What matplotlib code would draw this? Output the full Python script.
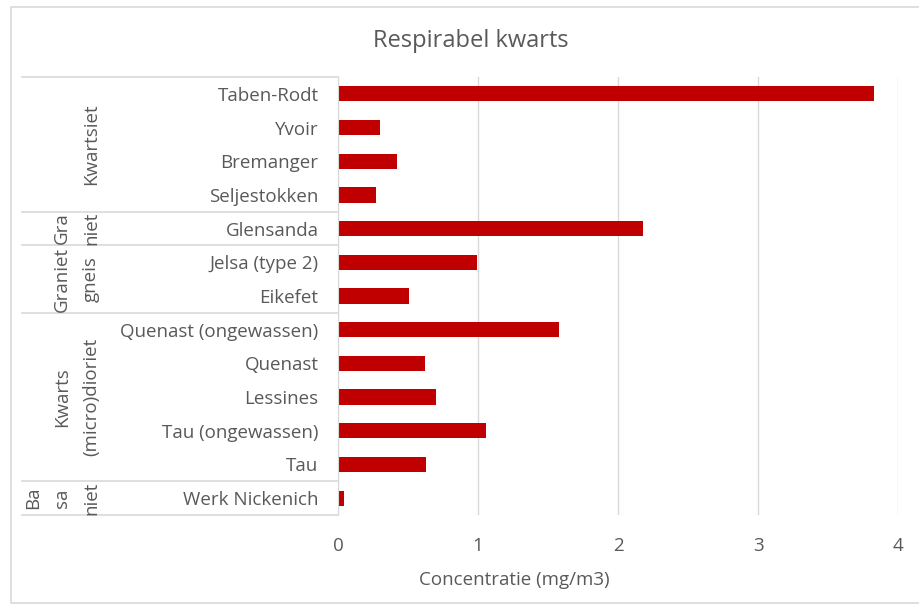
import matplotlib
matplotlib.use("Agg")
import matplotlib.pyplot as plt
import matplotlib.transforms as mtransforms
from matplotlib.lines import Line2D

# ---- data ----
categories = ["Taben-Rodt", "Yvoir", "Bremanger", "Seljestokken", "Glensanda",
              "Jelsa (type 2)", "Eikefet", "Quenast (ongewassen)", "Quenast",
              "Lessines", "Tau (ongewassen)", "Tau", "Werk Nickenich"]
values = [3.83, 0.30, 0.42, 0.27, 2.18, 0.99, 0.51, 1.58, 0.62, 0.70, 1.06, 0.63, 0.04]
groups = ["Kwartsiet", "Graniet", "Graniet gneis", "Kwarts (micro)dioriet", "Basaniet"]
group_sizes = [4, 1, 2, 5, 1]
group_lines = [["Kwartsiet"], ["Gra", "niet"], ["Graniet", "gneis"],
               ["Kwarts", "(micro)dioriet"], ["Ba", "sa", "niet"]]
xticks = [0, 1, 2, 3, 4]

TXT = "#595959"
GRID = "#d9d9d9"
BAR = "#c00000"
FONT = "Open Sans"
FS = 13.5

W, H = 919, 606
fig = plt.figure(figsize=(W / 100, H / 100), dpi=100)
plt.rcParams['font.family'] = [FONT, 'DejaVu Sans']

ax = fig.add_axes([338 / W, 1 - 515 / H, 560 / W, 438 / H])
y = list(range(len(categories)))
ax.barh(y, values, height=0.45, color=BAR, zorder=3)
ax.set_ylim(len(categories) - 0.5, -0.5)
ax.set_xlim(0, 4)
ax.set_xticks(xticks)
ax.set_xticklabels([str(t) for t in xticks], color=TXT, fontsize=FS)
ax.tick_params(axis='x', length=0, pad=16)
ax.set_yticks(y)
ax.set_yticklabels(categories, color=TXT, fontsize=FS)
ax.tick_params(axis='y', length=0, pad=14)
ax.grid(axis='x', color=GRID, linewidth=1, zorder=0)
for s in ["top", "right", "bottom"]:
    ax.spines[s].set_visible(False)
ax.spines["left"].set_color(GRID)
ax.spines["left"].set_zorder(4)

# title and axis label
fig.text(471 / W, 1 - 41 / H, "Respirabel kwarts", ha='center', va='center',
         color=TXT, fontsize=17)
fig.text(514 / W, 1 - 580 / H, "Concentratie (mg/m3)", ha='center', va='center',
         color=TXT, fontsize=FS)

# group table
trans = mtransforms.blended_transform_factory(fig.transFigure, ax.transData)
bounds = [-0.5]
for n in group_sizes:
    bounds.append(bounds[-1] + n)
for b in bounds:
    fig.add_artist(Line2D([22 / W, 338 / W], [b, b], transform=trans,
                          color=GRID, linewidth=1.2))
col_x = [33, 62, 91]
for i, lines in enumerate(group_lines):
    yc = (bounds[i] + bounds[i + 1]) / 2
    xs = col_x[len(col_x) - len(lines):]
    for txt, px in zip(lines, xs):
        fig.text(px / W, yc, txt, transform=trans, rotation=90, ha='center',
                 va='center', color=TXT, fontsize=FS)

# outer border (right side falls outside the image)
fx = lambda px: px / W
fy = lambda py: 1 - py / H
fig.add_artist(Line2D([fx(930), fx(11), fx(11), fx(930)],
                      [fy(7), fy(7), fy(603), fy(603)],
                      transform=fig.transFigure, color=GRID, linewidth=1.2))

fig.savefig("out.png", dpi=100)
